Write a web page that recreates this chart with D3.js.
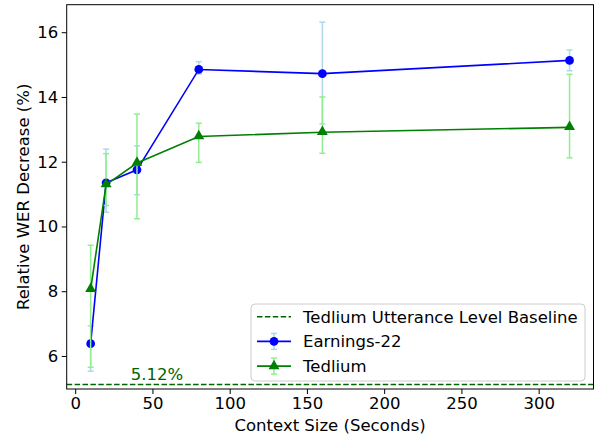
<!DOCTYPE html>
<html><head><meta charset="utf-8">
<script src="https://cdn.jsdelivr.net/npm/d3@7"></script>
<style>body{margin:0;background:#fff}svg{display:block}text{font-family:"DejaVu Sans",sans-serif}</style>
</head><body><svg id="c" width="595" height="438"></svg>
<script>
const contextSizes = [10, 20, 40, 80, 160, 320];
const earnings = [6.38, 11.35, 11.75, 14.85, 14.72, 15.13];
const earningsLow = [5.53, 10.44, 10.98, 14.71, 13.17, 14.81];
const earningsHigh = [6.93, 12.39, 12.49, 15.09, 16.31, 15.45];
const tedlium = [8.06, 11.29, 11.96, 12.78, 12.91, 13.06];
const tedliumLow = [5.65, 10.65, 10.24, 11.98, 12.26, 12.12];
const tedliumHigh = [9.42, 12.25, 13.47, 13.19, 14.0, 14.70];
const baseline = 5.12;
const xTicks = [0, 50, 100, 150, 200, 250, 300];
const yTicks = [6, 8, 10, 12, 14, 16];

const FS = 16.5;
const svg = d3.select("#c");
const L = 66.7, R = 593.5, T = 4.7, B = 389;
const x = d3.scaleLinear().domain([-5.5, 335.5]).range([L, R]);
const y = d3.scaleLinear().domain([4.98, 16.85]).range([B, T]);

// axes
const xa = svg.append("g").attr("transform", `translate(0,${B})`)
  .call(d3.axisBottom(x).tickValues(xTicks).tickSize(5).tickPadding(3.5));
const ya = svg.append("g").attr("transform", `translate(${L},0)`)
  .call(d3.axisLeft(y).tickValues(yTicks).tickSize(5).tickPadding(3.5));
[xa, ya].forEach(a => {
  a.select(".domain").remove();
  a.selectAll("line").attr("stroke", "#000").attr("stroke-width", 1);
  a.selectAll("text").attr("font-size", FS).attr("fill", "#000").attr("font-family", "DejaVu Sans");
});

const g = svg.append("g");
// baseline
g.append("line").attr("x1", L).attr("x2", R).attr("y1", y(baseline)).attr("y2", y(baseline))
  .attr("stroke", "#006400").attr("stroke-width", 1.5).attr("stroke-dasharray", "5.5,2.4");
g.append("text").attr("x", x(36)).attr("y", y(baseline) - 4.5).attr("font-size", FS)
  .attr("fill", "#006400").text(baseline.toFixed(2) + "%");

function series(vals, lo, hi, lineColor, barColor, marker) {
  const eb = g.append("g").attr("stroke", barColor).attr("stroke-width", 1.5);
  contextSizes.forEach((c, i) => {
    const cx = x(c);
    eb.append("line").attr("x1", cx).attr("x2", cx).attr("y1", y(lo[i])).attr("y2", y(hi[i]));
    eb.append("line").attr("x1", cx - 3).attr("x2", cx + 3).attr("y1", y(lo[i])).attr("y2", y(lo[i]));
    eb.append("line").attr("x1", cx - 3).attr("x2", cx + 3).attr("y1", y(hi[i])).attr("y2", y(hi[i]));
  });
  const line = d3.line().x((d, i) => x(contextSizes[i])).y(d => y(d));
  g.append("path").datum(vals).attr("d", line).attr("fill", "none")
    .attr("stroke", lineColor).attr("stroke-width", 1.6);
  const sym = d3.symbol().type(marker === "circle" ? d3.symbolCircle : d3.symbolTriangle)
    .size(marker === "circle" ? 60 : 52);
  g.selectAll(null).data(vals).enter().append("path")
    .attr("transform", (d, i) => `translate(${x(contextSizes[i])},${y(d) + (marker === "circle" ? 0 : -0.5)})`)
    .attr("d", sym).attr("fill", lineColor);
}
series(earnings, earningsLow, earningsHigh, "#0000ff", "#add8e6", "circle");
series(tedlium, tedliumLow, tedliumHigh, "#008000", "#90ee90", "triangle");

// frame
svg.append("rect").attr("x", L).attr("y", T).attr("width", R - L).attr("height", B - T)
  .attr("fill", "none").attr("stroke", "#000").attr("stroke-width", 1);

// labels
svg.append("text").attr("x", (L + R) / 2).attr("y", 431).attr("text-anchor", "middle")
  .attr("font-size", FS).text("Context Size (Seconds)");
svg.append("text").attr("transform", `translate(29,${(T + B) / 2}) rotate(-90)`)
  .attr("text-anchor", "middle").attr("font-size", FS).text("Relative WER Decrease (%)");

// legend
const lg = svg.append("g");
lg.append("rect").attr("x", 251).attr("y", 304).attr("width", 334).attr("height", 77)
  .attr("rx", 4).attr("fill", "#fff").attr("fill-opacity", 0.8).attr("stroke", "#cccccc");
const items = [
  {label: "Tedlium Utterance Level Baseline", type: "dash", color: "#006400"},
  {label: "Earnings-22", type: "circle", color: "#0000ff", bar: "#add8e6"},
  {label: "Tedlium", type: "triangle", color: "#008000", bar: "#90ee90"}
];
items.forEach((it, i) => {
  const cy = 316.7 + i * 24.7;
  const x0 = 257, x1 = 291, xm = (x0 + x1) / 2;
  if (it.type === "dash") {
    lg.append("line").attr("x1", x0).attr("x2", x1).attr("y1", cy).attr("y2", cy)
      .attr("stroke", it.color).attr("stroke-width", 1.5).attr("stroke-dasharray", "5.5,2.4");
  } else {
    lg.append("line").attr("x1", xm).attr("x2", xm).attr("y1", cy - 8).attr("y2", cy + 8)
      .attr("stroke", it.bar).attr("stroke-width", 1.5);
    [cy - 8, cy + 8].forEach(yy => lg.append("line").attr("x1", xm - 3).attr("x2", xm + 3)
      .attr("y1", yy).attr("y2", yy).attr("stroke", it.bar).attr("stroke-width", 1.5));
    lg.append("line").attr("x1", x0).attr("x2", x1).attr("y1", cy).attr("y2", cy)
      .attr("stroke", it.color).attr("stroke-width", 1.6);
    lg.append("path").attr("transform", `translate(${xm},${cy})`)
      .attr("d", d3.symbol().type(it.type === "circle" ? d3.symbolCircle : d3.symbolTriangle).size(it.type === "circle" ? 60 : 52))
      .attr("fill", it.color);
  }
  lg.append("text").attr("x", 303).attr("y", cy + 6).attr("font-size", FS).text(it.label);
});
</script></body></html>
